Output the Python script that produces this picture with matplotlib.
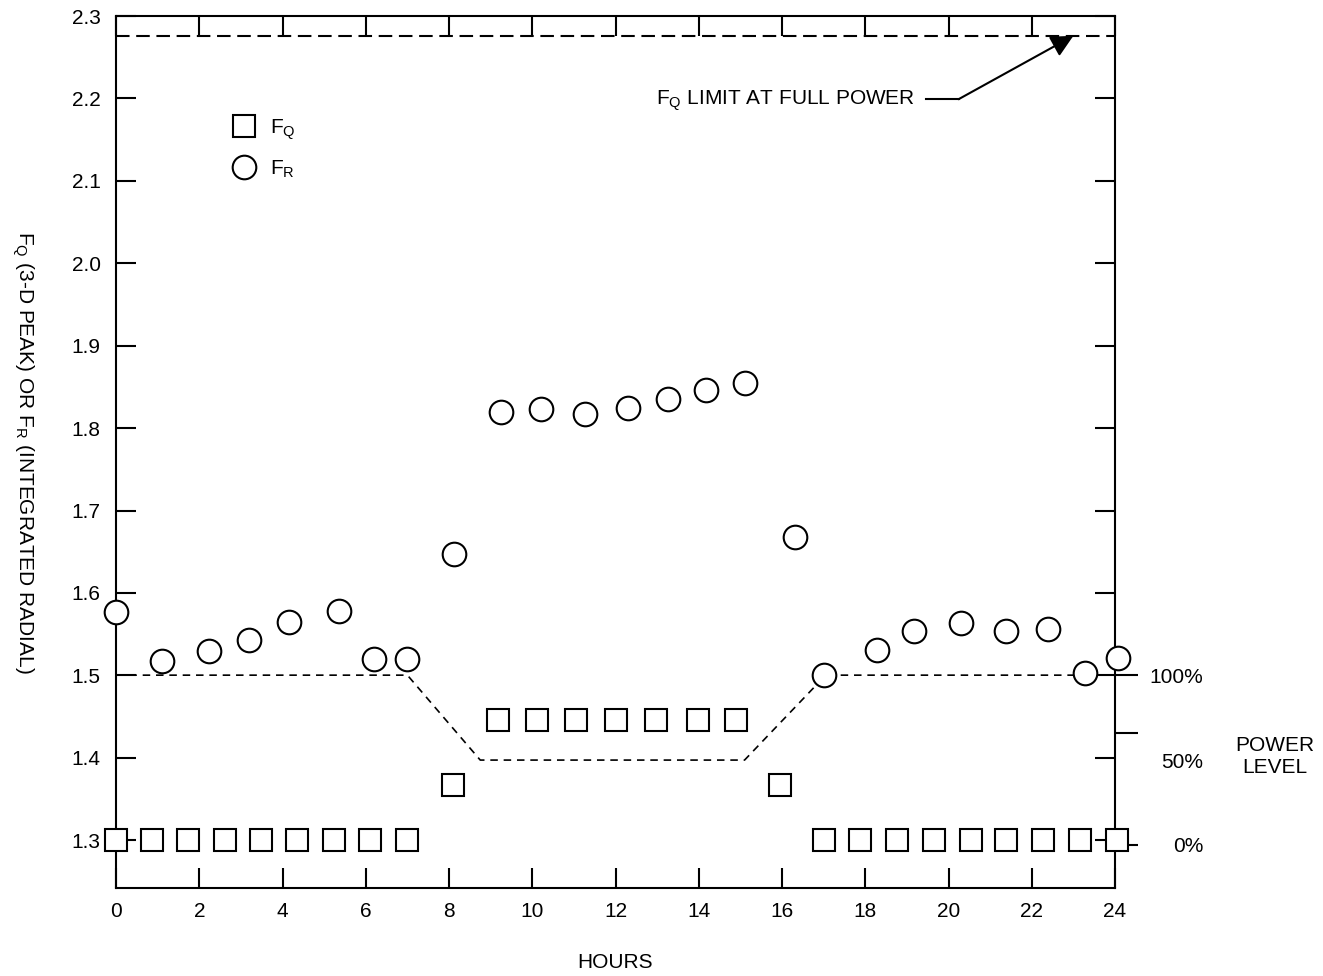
import matplotlib
matplotlib.use('Agg')
import matplotlib.pyplot as plt

plt.rcParams['font.family'] = ['Liberation Sans', 'DejaVu Sans']
plt.rcParams['mathtext.default'] = 'regular'
plt.rcParams['font.size'] = 15

# F_R (integrated radial) readings - circles
fr_hours = [0, 1.1, 2.24, 3.2, 4.16, 5.36, 6.2, 7.0, 8.13, 9.25, 10.2, 11.27, 12.3,
            13.25, 14.18, 15.1, 16.3, 17.0, 18.27, 19.18, 20.29, 21.37, 22.4, 23.27, 24.06]
fr_vals = [1.577, 1.517, 1.529, 1.543, 1.565, 1.578, 1.52, 1.52, 1.647, 1.819, 1.823, 1.817, 1.824,
           1.835, 1.846, 1.855, 1.668, 1.50, 1.531, 1.554, 1.563, 1.554, 1.556, 1.503, 1.521]

# F_Q (3-D peak) readings - squares
fq_hours = [0, 0.87, 1.73, 2.62, 3.49, 4.35, 5.24, 6.1, 6.99, 8.1, 9.18, 10.12, 11.06,
            12.02, 12.98, 13.97, 14.9, 15.94, 17.0, 17.88, 18.77, 19.64, 20.53, 21.39,
            22.28, 23.15, 24.04]
fq_vals = [1.3] * 9 + [1.367] + [1.446] * 7 + [1.367] + [1.3] * 9

# power level (percent)
power_hours = [0, 7.0, 8.75, 15.1, 17.05, 24]
power_pct = [100, 100, 50, 50, 100, 100]

fq_limit = 2.276

fig = plt.figure(figsize=(13.23, 9.76), dpi=100)
ax = fig.add_axes([0.0877, 0.0902, 0.7551, 0.8934])
ax.set_xlim(0, 24)
ax.set_ylim(1.242, 2.3)

# secondary axis for power level: 0% -> 1.294, 100% -> 1.5
ax2 = ax.twinx()
ax2.set_ylim(-25.3, 488.1)
ax2.plot(power_hours, power_pct, color='black', lw=1.2, ls=(0, (4.5, 3.5)), zorder=1)

ax.axhline(fq_limit, color='black', lw=1.5, ls=(0, (6.5, 3.2)), zorder=1)

ax.plot(fq_hours, fq_vals, ls='none', marker='s', ms=16.5, mfc='white', mec='black',
        mew=1.5, clip_on=False, zorder=5, label='F$_Q$')
ax.plot(fr_hours, fr_vals, ls='none', marker='o', ms=17, mfc='white', mec='black',
        mew=1.5, clip_on=False, zorder=5, label='F$_R$')
ax.set_zorder(ax2.get_zorder() + 1)
ax.patch.set_visible(False)

ax.set_xticks(range(0, 25, 2))
ax.set_yticks([1.3, 1.4, 1.5, 1.6, 1.7, 1.8, 1.9, 2.0, 2.1, 2.2, 2.3])
ax.set_yticklabels(['1.3', '1.4', '1.5', '1.6', '1.7', '1.8', '1.9', '2.0', '2.1', '2.2', '2.3'])
ax.tick_params(axis='both', direction='in', length=14.5, width=1.5, top=True, right=True,
               labelsize=15)
ax.tick_params(axis='x', pad=10)
ax.tick_params(axis='y', pad=11)
for s in ax.spines.values():
    s.set_linewidth(1.5)
for s in ax2.spines.values():
    s.set_visible(False)

ax2.set_yticks([0, 66, 100])
ax2.set_yticklabels(['0%', '', '100%'])
ax2.set_yticks([50], minor=True)
ax2.set_yticklabels(['50%'], minor=True)
ax2.tick_params(axis='y', which='major', direction='out', length=16.5, width=1.5, pad=47,
                labelsize=15)
ax2.tick_params(axis='y', which='minor', length=0, pad=63.5, labelsize=15)
for lab in ax2.get_yticklabels(which='both'):
    lab.set_horizontalalignment('right')

ax.text(1.160, 0.151, 'POWER\nLEVEL', transform=ax.transAxes, ha='center', va='center',
        fontsize=15, linespacing=1.2)

ax.set_xlabel('HOURS', fontsize=15, va='center')
ax.xaxis.set_label_coords(0.5, -0.086)
ax.set_ylabel('F$_Q$ (3-D PEAK) OR F$_R$ (INTEGRATED RADIAL)', fontsize=15,
              rotation=270, va='center', ha='center')
ax.yaxis.set_label_coords(-0.093, 0.5)

# limit annotation
ax.text(19.2, 2.197, 'F$_Q$ LIMIT AT FULL POWER', ha='right', va='center', fontsize=15)
ax.plot([19.45, 20.24], [2.199, 2.199], color='black', lw=1.5)
ax.annotate('', xy=(23.0, fq_limit), xytext=(20.24, 2.199),
            arrowprops=dict(arrowstyle='-|>,head_length=0.9,head_width=0.45',
                            color='black', lw=1.5, shrinkA=0, shrinkB=0))

ax.legend(loc='upper left', bbox_to_anchor=(0.118, 0.884), frameon=False, numpoints=1,
          handlelength=1.0, handletextpad=0.75, labelspacing=0.8, borderpad=0,
          borderaxespad=0, fontsize=15)

plt.savefig('out.png', dpi=100)
